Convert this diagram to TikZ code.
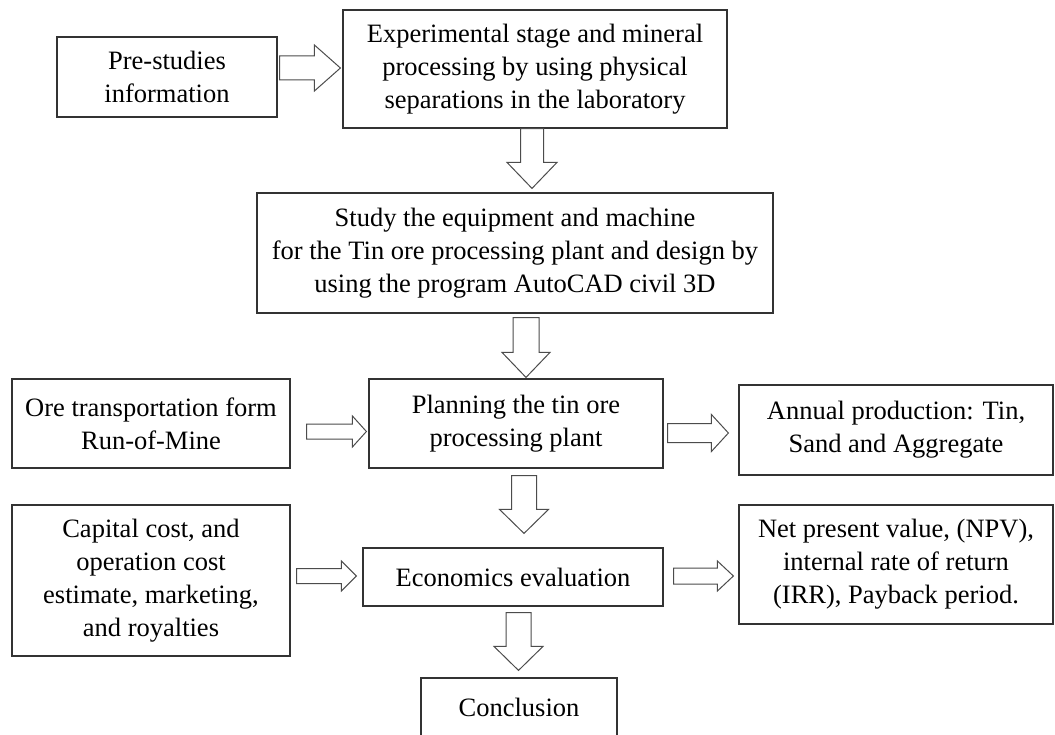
\documentclass[tikz,border=0pt]{standalone}
\usepackage{fontspec}
\setmainfont{Liberation Serif}
\usetikzlibrary{calc}

\tikzset{
  box/.style={draw=black!80, line width=1.2pt, align=center, inner sep=0pt,
              font=\fontsize{26.5}{33}\selectfont, text=black},
  blk/.style={draw=black!70, line width=1pt, fill=white, line join=miter},
}

% Block arrow pointing right: from node, to node, centre y, start gap, end gap,
% shaft half-width, head half-width, head length
\newcommand\rblock[8]{%
  \draw[blk] let \p1=(#1.east), \p2=(#2.west) in
    ({\x1+#4pt},{-#3pt+#6pt}) -- ({\x2-#5pt-#8pt},{-#3pt+#6pt})
    -- ({\x2-#5pt-#8pt},{-#3pt+#7pt}) -- ({\x2-#5pt},{-#3pt})
    -- ({\x2-#5pt-#8pt},{-#3pt-#7pt}) -- ({\x2-#5pt-#8pt},{-#3pt-#6pt})
    -- ({\x1+#4pt},{-#3pt-#6pt}) -- cycle;}

% Block arrow pointing down: from node, to node, centre x, start gap, end gap,
% shaft half-width, head half-width, head length
\newcommand\dblock[8]{%
  \draw[blk] let \p1=(#1.south), \p2=(#2.north) in
    ({#3pt-#6pt},{\y1-#4pt}) -- ({#3pt+#6pt},{\y1-#4pt})
    -- ({#3pt+#6pt},{\y2+#5pt+#8pt}) -- ({#3pt+#7pt},{\y2+#5pt+#8pt})
    -- ({#3pt},{\y2+#5pt}) -- ({#3pt-#7pt},{\y2+#5pt+#8pt})
    -- ({#3pt-#6pt},{\y2+#5pt+#8pt}) -- cycle;}

\begin{document}
\begin{tikzpicture}[x=1pt,y=1pt]
  \fill[white] (0,0) rectangle (1055,-735);
  \useasboundingbox (0,0) rectangle (1055,-735);

  \node[box, minimum width=220pt, minimum height=80pt] (pre) at (167,-77)
    {Pre-studies\\information};
  \node[box, minimum width=384pt, minimum height=118pt] (exp) at (535,-69)
    {Experimental stage and mineral\\processing by using physical\\separations in the laboratory};
  \node[box, minimum width=516pt, minimum height=120pt] (study) at (515,-253)
    {Study the equipment and machine\\for the Tin ore processing plant and design by\\using the program AutoCAD civil 3D};
  \node[box, minimum width=278pt, minimum height=89pt] (ore) at (151,-423.5)
    {Ore transportation form\\Run-of-Mine};
  \node[box, minimum width=294pt, minimum height=89pt] (plan) at (516,-423.5)
    {Planning the tin ore\\processing plant};
  \node[box, minimum width=314pt, minimum height=90pt] (annual) at (896,-430)
    {Annual production: Tin,\\Sand and Aggregate};
  \node[box, minimum width=278pt, minimum height=151pt] (capital) at (151,-580.5)
    {Capital cost, and\\operation cost\\estimate, marketing,\\and royalties};
  \node[box, minimum width=300pt, minimum height=58pt] (econ) at (513,-577)
    {Economics evaluation};
  \node[box, minimum width=314pt, minimum height=119pt] (npv) at (896,-564.5)
    {Net present value, (NPV),\\internal rate of return\\(IRR), Payback period.};
  \node[box, minimum width=196pt, minimum height=58pt] (concl) at (519,-707)
    {Conclusion};

  \rblock{pre}{exp}{68}{2}{2}{12}{23}{26}
  \dblock{exp}{study}{532}{0}{4}{11.5}{25}{26}
  \dblock{study}{plan}{526}{4}{1}{13}{24}{25}
  \rblock{ore}{plan}{431.5}{16}{2}{7.5}{15.5}{14}
  \rblock{plan}{annual}{433}{4}{10}{9.5}{18.5}{17}
  \dblock{plan}{econ}{524}{7}{14}{12.5}{24.5}{24}
  \rblock{capital}{econ}{576}{6}{6}{7.5}{15}{15}
  \rblock{econ}{npv}{576}{10}{5}{8}{15}{16}
  \dblock{econ}{concl}{518.5}{6}{7}{12.5}{24.5}{24}
\end{tikzpicture}
\end{document}
